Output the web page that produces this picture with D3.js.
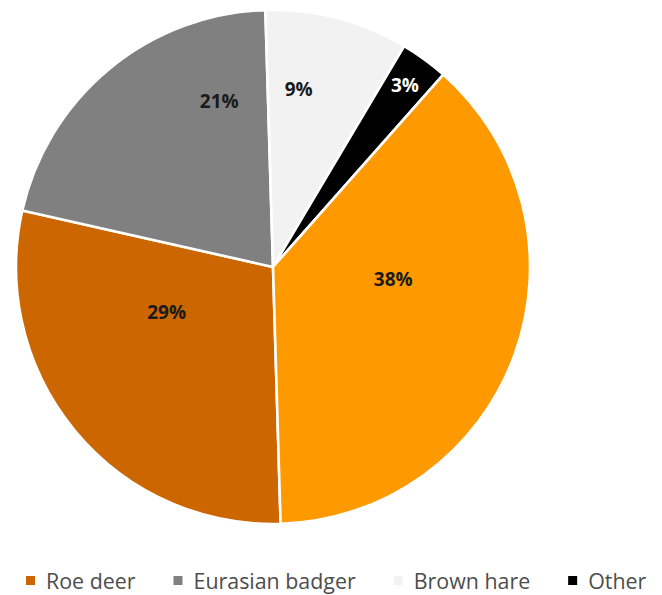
<!DOCTYPE html>
<html>
<head>
<meta charset="utf-8">
<script src="https://cdn.jsdelivr.net/npm/d3@7/dist/d3.min.js"></script>
<style>
  html, body { margin: 0; padding: 0; background: #fff; }
  svg { display: block; }
</style>
</head>
<body>
<svg id="chart" width="662" height="595"></svg>
<script>
// Share of each species (percent), in drawing order (clockwise)
const categories = ["Roe deer", "Eurasian badger", "Brown hare", "Other", "Wild boar"];
const values = [29, 21, 9, 3, 38];
const colors = ["#CC6600", "#808080", "#F2F2F2", "#000000", "#FF9900"];
const labelColors = ["#1a1a1a", "#1a1a1a", "#1a1a1a", "#ffffff", "#1a1a1a"];
// Entries listed in the legend
const legendItems = ["Roe deer", "Eurasian badger", "Brown hare", "Other"];

// Label placement: angular shift from slice mid-angle (degrees) and radius fraction
const labelShift = [16.4, 21.6, -6.3, -0.2, -14.4];
const labelRadius = [0.45, 0.68, 0.70, 0.875, 0.47];

const svg = d3.select("#chart");
const cx = 273, cy = 267, R = 257;
const toRad = d => d * Math.PI / 180;
const start = 178.3;

const pie = d3.pie()
  .sort(null)
  .value(d => d.value)
  .startAngle(toRad(start))
  .endAngle(toRad(start + 360));

const data = categories.map((c, i) => ({ name: c, value: values[i], color: colors[i], lc: labelColors[i] }));
const arcs = pie(data);
const arc = d3.arc().innerRadius(0).outerRadius(R);

const g = svg.append("g").attr("transform", `translate(${cx},${cy})`);

g.selectAll("path.slice")
  .data(arcs)
  .join("path")
  .attr("class", "slice")
  .attr("d", arc)
  .attr("fill", d => d.data.color)
  .attr("stroke", "#ffffff")
  .attr("stroke-width", 2.6)
  .attr("stroke-linejoin", "round");

g.selectAll("text.pct")
  .data(arcs)
  .join("text")
  .attr("class", "pct")
  .attr("transform", (d, i) => {
    const a = (d.startAngle + d.endAngle) / 2 + toRad(labelShift[i]);
    const r = R * labelRadius[i];
    return `translate(${r * Math.sin(a)},${-r * Math.cos(a)})`;
  })
  .attr("text-anchor", "middle")
  .attr("dominant-baseline", "central")
  .attr("font-family", "'Open Sans', sans-serif")
  .attr("font-weight", "bold")
  .attr("font-size", 19)
  .attr("fill", d => d.data.lc)
  .text(d => d3.format(".0f")(d.data.value) + "%");

// Legend
const legend = svg.append("g").attr("transform", "translate(26,580)");
let x = 0;
legendItems.forEach(name => {
  const i = categories.indexOf(name);
  const item = legend.append("g").attr("transform", `translate(${x},0)`);
  item.append("rect")
    .attr("x", 0).attr("y", -4)
    .attr("width", 9).attr("height", 9)
    .attr("fill", colors[i]);
  const t = item.append("text")
    .attr("x", 20).attr("y", 0)
    .attr("dominant-baseline", "central")
    .attr("font-family", "'Open Sans', sans-serif")
    .attr("font-size", 21.4)
    .attr("fill", "#4d4d4d")
    .text(name);
  x += 20 + t.node().getComputedTextLength() + 38;
});
</script>
</body>
</html>
